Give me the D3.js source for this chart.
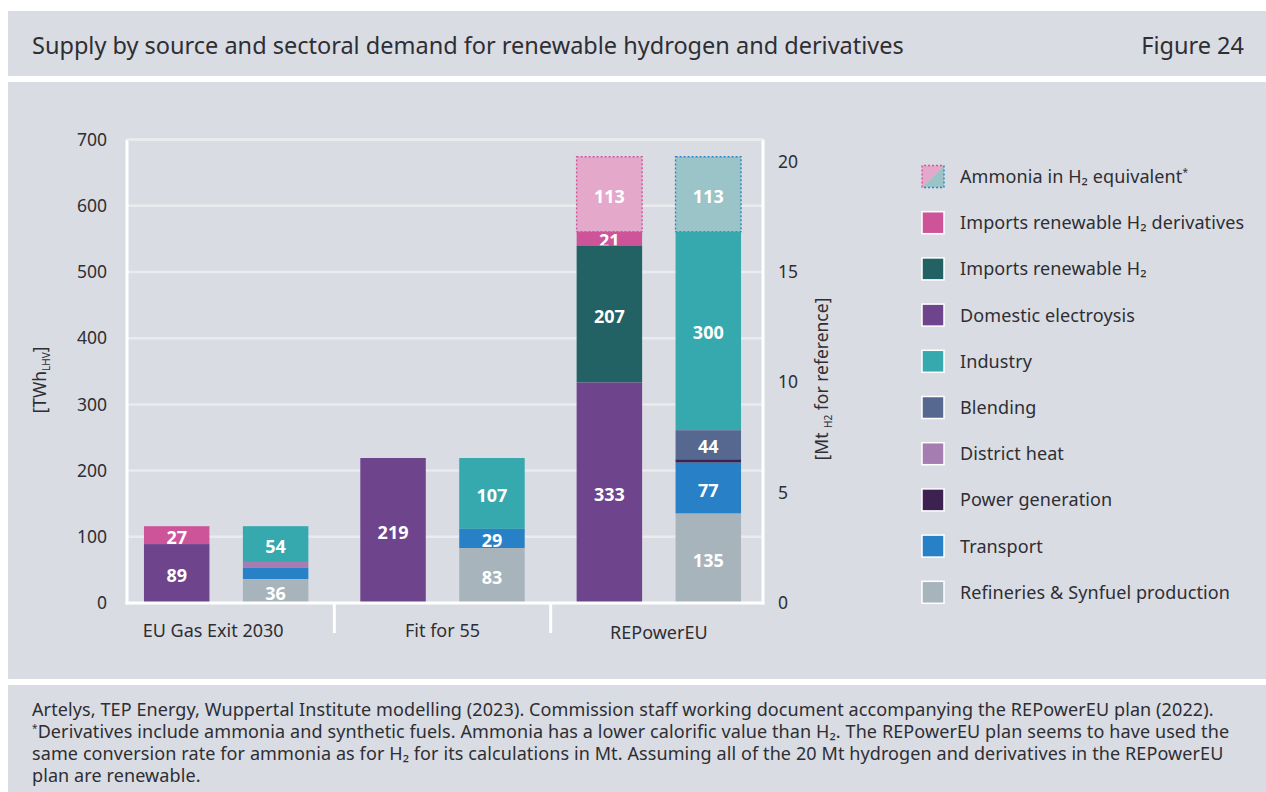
<!DOCTYPE html>
<html>
<head>
<meta charset="utf-8">
<script src="https://cdn.jsdelivr.net/npm/d3@7"></script>
<style>
  html, body { margin: 0; padding: 0; background: #ffffff; }
  svg { display: block; }
  text { font-family: "Noto Sans", "Open Sans", sans-serif; fill: #2e2e33; }
</style>
</head>
<body>
<svg id="chart" width="1266" height="792"></svg>
<script>
// ---------- data ----------
const categories = ["EU Gas Exit 2030", "Fit for 55", "REPowerEU"];

// supply side (TWh LHV)
const domesticElectrolysis = [89, 219, 333];
const importsRenewableH2 = [0, 0, 207];
const importsRenewableDerivatives = [27, 0, 21];
const ammoniaSupply = [0, 0, 113];

// demand side (TWh LHV)
const refineriesSynfuel = [36, 83, 135];
const transport = [17, 29, 77];
const powerGeneration = [0, 0, 5];
const districtHeat = [9, 0, 0];
const blending = [0, 0, 44];
const industry = [54, 107, 300];
const ammoniaDemand = [0, 0, 113];

const leftTicks = [0, 100, 200, 300, 400, 500, 600, 700];
const rightTicks = [0, 5, 10, 15, 20];
const twhPerMt = 33.33;

const legendLabels = [
  "Ammonia in H₂ equivalent",
  "Imports renewable H₂ derivatives",
  "Imports renewable H₂",
  "Domestic electroysis",
  "Industry",
  "Blending",
  "District heat",
  "Power generation",
  "Transport",
  "Refineries & Synfuel production"
];

const colors = {
  "Domestic electroysis": "#6e448c",
  "Imports renewable H₂": "#236264",
  "Imports renewable H₂ derivatives": "#cd5499",
  "Ammonia supply": "#e4a8cb",
  "Ammonia demand": "#9ac4c7",
  "Refineries & Synfuel production": "#a8b4bc",
  "Transport": "#2881c6",
  "Power generation": "#3d2150",
  "District heat": "#a57db0",
  "Blending": "#56688f",
  "Industry": "#35a9ae"
};
const dashColors = { "Ammonia supply": "#d1559b", "Ammonia demand": "#2a86c4" };

// ---------- tables built from arrays ----------
const supplyKeys = ["Domestic electroysis", "Imports renewable H₂", "Imports renewable H₂ derivatives", "Ammonia supply"];
const demandKeys = ["Refineries & Synfuel production", "Transport", "Power generation", "District heat", "Blending", "Industry", "Ammonia demand"];
const supplyRows = categories.map((c, i) => ({
  category: c,
  "Domestic electroysis": domesticElectrolysis[i],
  "Imports renewable H₂": importsRenewableH2[i],
  "Imports renewable H₂ derivatives": importsRenewableDerivatives[i],
  "Ammonia supply": ammoniaSupply[i]
}));
const demandRows = categories.map((c, i) => ({
  category: c,
  "Refineries & Synfuel production": refineriesSynfuel[i],
  "Transport": transport[i],
  "Power generation": powerGeneration[i],
  "District heat": districtHeat[i],
  "Blending": blending[i],
  "Industry": industry[i],
  "Ammonia demand": ammoniaDemand[i]
}));

// ---------- layout ----------
const svg = d3.select("#chart");
const W = 1266, H = 792;
const panelFill = "#d9dce3";

svg.append("rect").attr("x", 0).attr("y", 0).attr("width", W).attr("height", H).attr("fill", "#ffffff");
svg.append("rect").attr("x", 8).attr("y", 11).attr("width", W - 8).attr("height", 65).attr("fill", panelFill);
svg.append("rect").attr("x", 8).attr("y", 82).attr("width", W - 8).attr("height", 597).attr("fill", panelFill);
svg.append("rect").attr("x", 8).attr("y", 685).attr("width", W - 8).attr("height", H - 685).attr("fill", panelFill);

svg.append("text").attr("x", 32).attr("y", 54).attr("font-size", 23.5)
  .text("Supply by source and sectoral demand for renewable hydrogen and derivatives");
svg.append("text").attr("x", 1244).attr("y", 54).attr("font-size", 23.5).attr("text-anchor", "end")
  .text("Figure 24");

// scales
const plotLeft = 127, plotRight = 763, plotBottom = 603;
const y = d3.scaleLinear().domain([0, 700]).range([plotBottom, 139.6]);
const yR = d3.scaleLinear().domain([0, 700 / twhPerMt]).range([plotBottom, 139.6]);
const x0 = d3.scaleBand().domain(categories).range([118, 767]);
const x1 = d3.scaleBand().domain(["supply", "demand"]).range([0, x0.bandwidth()])
  .paddingInner(0.338).paddingOuter(0.2625);

// gridlines
const g = svg.append("g");
g.selectAll("line.grid").data(leftTicks.filter(t => t > 0)).join("line")
  .attr("x1", plotLeft).attr("x2", plotRight)
  .attr("y1", d => y(d)).attr("y2", d => y(d))
  .attr("stroke", "#e9ebef").attr("stroke-width", 2.5);

// left axis labels
const leftAxis = d3.axisLeft(y).tickValues(leftTicks).tickSize(0).tickPadding(19);
const la = svg.append("g").attr("transform", `translate(${plotLeft - 1},0)`).call(leftAxis);
la.select(".domain").remove();
la.selectAll("text").attr("font-size", 17.5).attr("fill", "#2e2e33").attr("font-family", "Noto Sans");

// right axis labels
const rightAxis = d3.axisRight(yR).tickValues(rightTicks).tickSize(0).tickPadding(15);
const ra = svg.append("g").attr("transform", `translate(${plotRight},0)`).call(rightAxis);
ra.select(".domain").remove();
ra.selectAll("text").attr("font-size", 17.5).attr("fill", "#2e2e33").attr("font-family", "Noto Sans");

// stacks
const supplyStack = d3.stack().keys(supplyKeys)(supplyRows);
const demandStack = d3.stack().keys(demandKeys)(demandRows);

function drawStack(stack, side) {
  const segs = [];
  stack.forEach(layer => {
    layer.forEach(d => {
      const v = d[1] - d[0];
      if (v > 0) segs.push({ key: layer.key, cat: d.data.category, y0: d[0], y1: d[1], v: v });
    });
  });
  // draw top segments first so lower segments overlay overflowing labels
  segs.sort((a, b) => b.y0 - a.y0);
  const grp = svg.append("g");
  segs.forEach(s => {
    const bx = x0(s.cat) + x1(side);
    const bw = x1.bandwidth();
    const isAmmonia = s.key.startsWith("Ammonia");
    grp.append("rect")
      .attr("x", bx).attr("width", bw)
      .attr("y", y(s.y1)).attr("height", y(s.y0) - y(s.y1))
      .attr("fill", colors[s.key])
      .attr("stroke", isAmmonia ? dashColors[s.key] : "none")
      .attr("stroke-width", isAmmonia ? 1.4 : 0)
      .attr("stroke-dasharray", isAmmonia ? "2,2" : null);
    if (s.v >= 20) {
      grp.append("text")
        .attr("x", bx + bw / 2).attr("y", (y(s.y0) + y(s.y1)) / 2 + 1.5)
        .attr("text-anchor", "middle").attr("dominant-baseline", "central")
        .attr("font-size", 18).attr("font-weight", 700).style("fill", "#ffffff")
        .text(s.v);
    }
  });
}
drawStack(supplyStack, "supply");
drawStack(demandStack, "demand");

// axis frame lines
svg.append("line").attr("x1", plotLeft).attr("x2", plotLeft).attr("y1", 139.6).attr("y2", plotBottom + 1.5)
  .attr("stroke", "#ffffff").attr("stroke-width", 3);
svg.append("line").attr("x1", plotRight).attr("x2", plotRight).attr("y1", 139.6).attr("y2", plotBottom + 1.5)
  .attr("stroke", "#ffffff").attr("stroke-width", 3);
svg.append("line").attr("x1", plotLeft - 1.5).attr("x2", plotRight + 1.5).attr("y1", plotBottom).attr("y2", plotBottom)
  .attr("stroke", "#ffffff").attr("stroke-width", 3);
svg.append("line").attr("x1", plotLeft).attr("x2", plotRight).attr("y1", y(700)).attr("y2", y(700))
  .attr("stroke", "#e9ebef").attr("stroke-width", 2.5);

// group separators
const seps = categories.slice(1).map(c => x0(c));
svg.selectAll("line.sep").data(seps).join("line")
  .attr("x1", d => d).attr("x2", d => d).attr("y1", plotBottom).attr("y2", 633)
  .attr("stroke", "#ffffff").attr("stroke-width", 3);

// category labels
const catLabelShift = [-13, 0, 0];
const catLabelDy = [0, 0, 2];
svg.selectAll("text.cat").data(categories).join("text")
  .attr("x", (d, i) => x0(d) + x0.bandwidth() / 2 + catLabelShift[i])
  .attr("y", (d, i) => 637 + catLabelDy[i])
  .attr("text-anchor", "middle").attr("font-size", 18)
  .text(d => d);

// axis titles
const lt = svg.append("text").attr("transform", "translate(46,380) rotate(-90)")
  .attr("text-anchor", "middle").attr("font-size", 17.5);
lt.append("tspan").text("[TWh");
lt.append("tspan").attr("font-size", 10).attr("dy", 4).text("LHV");
lt.append("tspan").attr("dy", -4).text("]");

const rt = svg.append("text").attr("transform", "translate(828,379) rotate(-90)")
  .attr("text-anchor", "middle").attr("font-size", 17.5);
rt.append("tspan").text("[Mt ");
rt.append("tspan").attr("font-size", 10).attr("dy", 4).text("H2");
rt.append("tspan").attr("dy", -4).text(" for reference]");

// legend
const legY0 = 176.5, legStep = 46.2, swX = 922, sw = 22;
const leg = svg.append("g");
legendLabels.forEach((lab, i) => {
  const cy = legY0 + i * legStep;
  const top = cy - sw / 2;
  if (i === 0) {
    leg.append("path").attr("d", `M${swX},${top}H${swX + sw}L${swX},${top + sw}Z`).attr("fill", colors["Ammonia supply"]);
    leg.append("path").attr("d", `M${swX + sw},${top}V${top + sw}H${swX}Z`).attr("fill", colors["Ammonia demand"]);
    leg.append("path").attr("d", `M${swX},${top + sw}V${top}H${swX + sw}`).attr("fill", "none")
      .attr("stroke", dashColors["Ammonia supply"]).attr("stroke-width", 1.4).attr("stroke-dasharray", "2,2");
    leg.append("path").attr("d", `M${swX + sw},${top}V${top + sw}H${swX}`).attr("fill", "none")
      .attr("stroke", dashColors["Ammonia demand"]).attr("stroke-width", 1.4).attr("stroke-dasharray", "2,2");
  } else {
    leg.append("rect").attr("x", swX).attr("y", top).attr("width", sw).attr("height", sw)
      .attr("fill", colors[lab]).attr("stroke", "#ffffff").attr("stroke-width", 1.5);
  }
  const t = leg.append("text").attr("x", 960).attr("y", cy + 6.5).attr("font-size", 18)
    .attr("letter-spacing", 0.1);
  t.append("tspan").text(lab);
  if (i === 0) t.append("tspan").attr("font-size", 10).attr("dy", -7).text("*");
});

// footer
const fLines = [
  [["", "Artelys, TEP Energy, Wuppertal Institute modelling (2023). Commission staff working document accompanying the REPowerEU plan (2022)."]],
  [["sup", "*"], ["", "Derivatives include ammonia and synthetic fuels. Ammonia has a lower calorific value than H₂. The REPowerEU plan seems to have used the"]],
  [["", "same conversion rate for ammonia as for H₂ for its calculations in Mt. Assuming all of the 20 Mt hydrogen and derivatives in the REPowerEU"]],
  [["", "plan are renewable."]]
];
const footer = svg.append("g");
fLines.forEach((parts, i) => {
  const t = footer.append("text").attr("x", 32).attr("y", 716 + i * 22).attr("font-size", 18)
    .attr("letter-spacing", 0.1);
  parts.forEach(p => {
    if (p[0] === "sup") t.append("tspan").attr("font-size", 10).attr("dy", -6).text(p[1]);
    else t.append("tspan").attr("dy", parts.length > 1 ? 6 : 0).text(p[1]);
  });
});
</script>
</body>
</html>
